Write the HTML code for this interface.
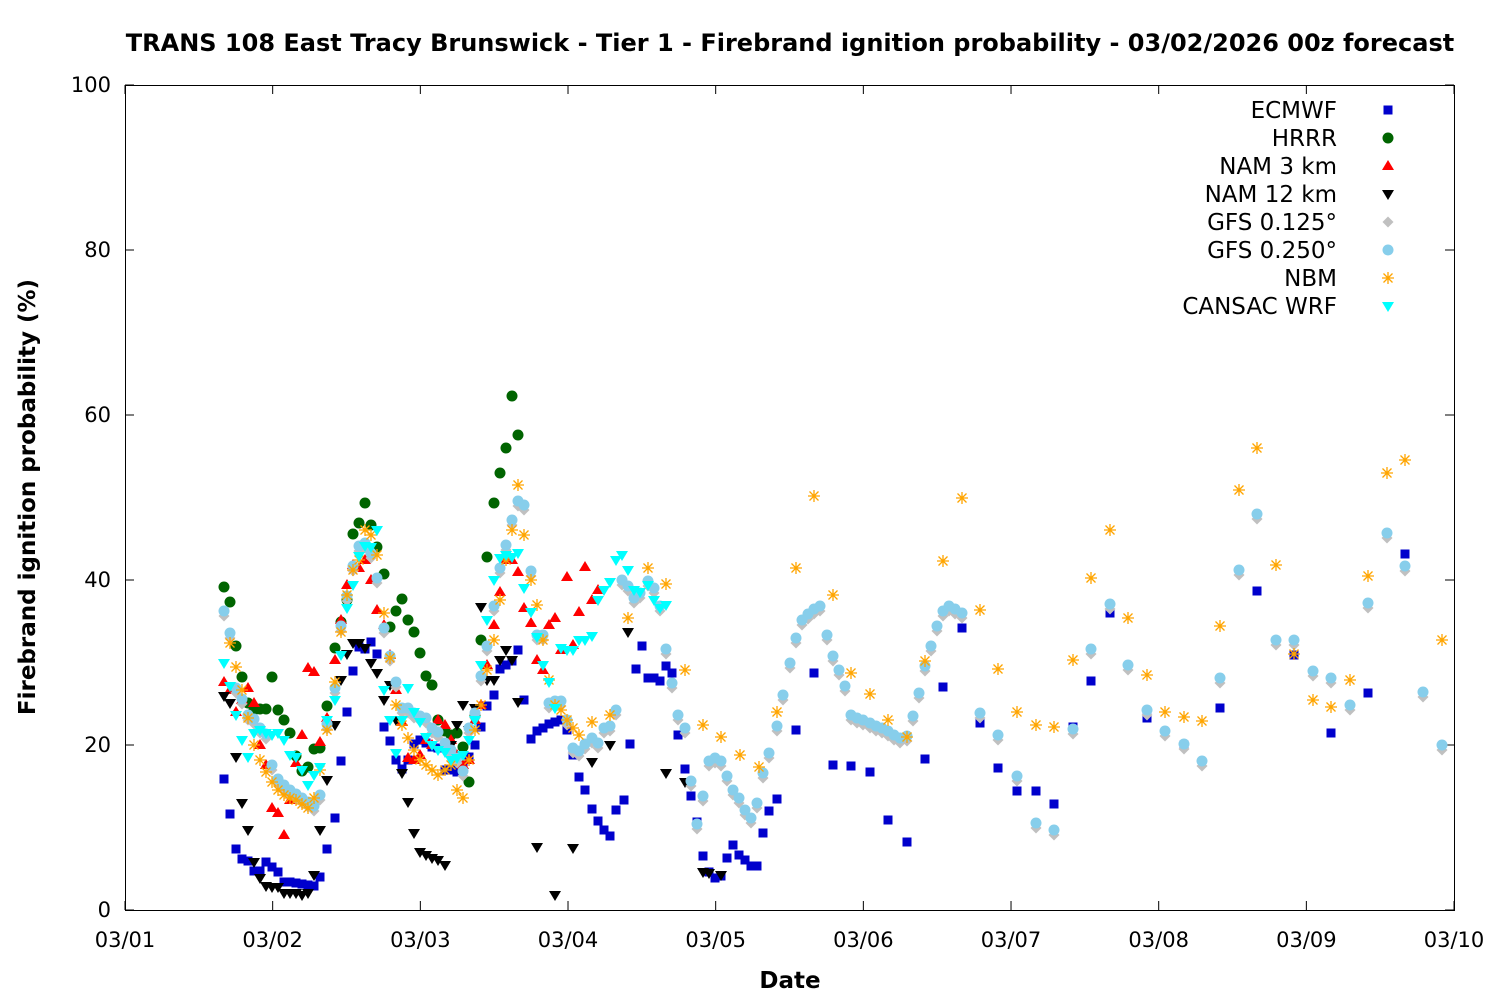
<!DOCTYPE html>
<html><head><meta charset="utf-8"><style>
html,body{margin:0;padding:0;background:#fff}
svg{display:block;font-family:"DejaVu Sans","Liberation Sans",sans-serif}
</style></head><body>
<svg id="s" width="1500" height="1000" xmlns="http://www.w3.org/2000/svg">
<rect width="1500" height="1000" fill="#fff"/>
<text x="790" y="51" font-size="24" font-weight="bold" text-anchor="middle">TRANS 108 East Tracy Brunswick - Tier 1 - Firebrand ignition probability - 03/02/2026 00z forecast</text>
<text x="790" y="988" font-size="23" font-weight="bold" text-anchor="middle">Date</text>
<text transform="translate(35,497) rotate(-90)" font-size="23" font-weight="bold" text-anchor="middle">Firebrand ignition probability (%)</text>
<g id="ax"></g>
<g id="pts"></g>
<g id="leg" font-size="23" text-anchor="end"></g>
</svg>
<script>
var NS="http://www.w3.org/2000/svg",ax=document.getElementById('ax'),P=document.getElementById('pts'),L=document.getElementById('leg');
function el(p,t,a,txt){var e=document.createElementNS(NS,t);for(var k in a)e.setAttribute(k,a[k]);if(txt)e.textContent=txt;p.appendChild(e);return e;}
el(ax,'rect',{x:125.5,y:85.5,width:1329,height:825,fill:'none',stroke:'#000','stroke-width':1});
for(var i=0;i<=5;i++){var y=910-i*165;el(ax,'path',{d:'M125 '+y+'h9M1454 '+y+'h-9',stroke:'#000'});el(ax,'text',{x:111,y:y+7,'font-size':21,'text-anchor':'end'},String(i*20));}
for(var d=0;d<=9;d++){var x=125+d*147.67;el(ax,'path',{d:'M'+x+' 910v-9M'+x+' 85v9',stroke:'#000'});el(ax,'text',{x:x,y:947,'font-size':21,'text-anchor':'middle'},'03/'+(d<9?'0':'')+(d+1));}
function sym(g,type,c,x,y){
 if(type=='sq')el(g,'rect',{x:x-4.5,y:y-4.5,width:9,height:9,fill:c});
 else if(type=='ci')el(g,'circle',{cx:x,cy:y,r:5.5,fill:c});
 else if(type=='tu')el(g,'path',{d:'M'+x+' '+(y-6)+'l6 10h-12z',fill:c});
 else if(type=='td')el(g,'path',{d:'M'+x+' '+(y+6)+'l6 -10h-12z',fill:c});
 else if(type=='di')el(g,'path',{d:'M'+x+' '+(y-5.5)+'l5.5 5.5l-5.5 5.5l-5.5 -5.5z',fill:c});
 else if(type=='as'){el(g,'path',{d:'M'+(x-6)+' '+y+'h12M'+x+' '+(y-6)+'v12M'+(x-4.5)+' '+(y-4.5)+'l9 9M'+(x-4.5)+' '+(y+4.5)+'l9 -9',stroke:c,'stroke-width':1.3,fill:'none'});}
}
function pa(s){return s.match(/-?\d+/g).map(Number);}
var EC=pa("224,779 230,814 236,849 242,859 248,861 254,871 260,871 266,862 272,867 278,872 284,882 290,882 296,883 302,884 308,885 314,886 320,877 327,849 335,818 341,761 347,712 353,671 359,647 365,649 371,642 377,654 384,727 390,741 396,760 402,769 408,760 414,744 420,740 426,743 432,747 438,748 445,770 451,770 457,772 463,767 469,757 475,745 481,727 487,706 494,695 500,669 506,665 512,661 518,650 524,700 531,739 537,731 543,728 549,724 555,722 561,720 567,730 573,755 579,777 585,790 592,809 598,821 604,830 610,836 616,810 624,800 630,744 636,669 642,646 648,678 654,678 660,681 666,666 672,673 678,735 685,769 691,796 697,822 703,856 709,872 715,878 721,876 727,858 733,845 739,855 745,860 751,866 757,866 763,833 769,811 777,799 796,730 814,673 833,765 851,766 870,772 888,820 907,842 925,759 943,687 962,628 980,723 998,768 1017,791 1036,791 1054,804 1073,727 1091,681 1110,613 1147,718 1184,745 1220,708 1257,591 1294,655 1331,733 1368,693 1405,554");
var GF=pa("224,613 230,635 236,690 242,701 248,717 254,721 260,730 266,736 272,767 278,781 284,787 290,792 296,796 302,800 308,804 314,808 320,797 327,726 335,690 341,628 347,598 353,568 359,548 365,545 371,555 377,580 384,630 390,658 396,684 402,710 408,710 414,715 420,718 426,720 432,730 438,734 445,745 451,752 457,760 463,773 469,730 475,715 481,678 487,648 494,608 500,570 506,547 512,522 518,503 524,507 531,573 537,637 543,637 549,705 555,703 561,703 567,722 573,750 579,753 585,746 592,740 598,745 604,730 610,728 616,712 622,582 628,588 634,600 640,595 648,583 654,590 660,608 666,651 672,685 678,717 685,730 691,783 697,826 703,798 709,763 715,760 721,763 727,778 733,792 739,800 745,812 751,820 757,805 763,775 769,755 777,728 783,697 790,665 796,640 802,622 808,616 814,611 820,608 827,637 833,658 839,672 845,688 851,717 857,720 863,722 870,725 876,728 882,730 888,733 894,737 900,740 907,738 913,718 919,695 925,668 931,648 937,628 943,613 949,608 955,611 962,615 980,715 998,737 1017,778 1036,825 1054,832 1073,731 1091,651 1110,606 1128,667 1147,712 1165,733 1184,746 1202,763 1220,680 1239,572 1257,516 1276,642 1294,642 1313,673 1331,680 1350,707 1368,605 1387,535 1405,568 1423,694 1442,747");
var NB=pa("230,643 236,667 242,690 248,718 254,745 260,760 266,772 272,782 278,790 284,795 290,798 296,800 302,804 308,808 314,798 320,770 327,730 335,682 341,632 347,595 353,570 359,560 365,530 371,535 377,555 384,613 390,658 396,705 402,725 408,738 414,750 420,760 426,765 432,770 438,775 445,770 451,765 457,790 463,798 469,760 475,730 481,705 487,670 494,640 500,600 506,560 512,530 518,485 524,535 531,580 537,605 543,640 549,680 555,705 561,710 567,720 573,728 579,735 592,722 610,715 628,618 648,568 666,584 685,670 703,725 721,737 740,755 759,767 777,712 796,568 814,496 833,595 851,673 870,694 888,720 907,737 925,661 943,561 962,498 980,610 998,669 1017,712 1036,725 1054,727 1073,660 1091,578 1110,530 1128,618 1147,675 1165,712 1184,717 1202,721 1220,626 1239,490 1257,448 1276,565 1294,654 1313,700 1331,707 1350,680 1368,576 1387,473 1405,460 1442,640");
var HR=pa("224,587 230,602 236,646 242,677 248,703 254,710 260,709 266,709 272,677 278,710 284,720 290,733 296,756 302,771 308,767 314,749 320,748 327,706 335,648 341,622 347,600 353,534 359,523 365,503 371,525 377,547 384,574 390,627 396,611 402,599 408,620 414,632 420,653 426,676 432,685 438,720 445,731 451,735 457,733 463,747 469,782 475,716 481,640 487,557 494,503 500,473 506,448 512,396 518,435");
var N3=pa("224,682 230,690 236,712 242,700 248,688 254,703 260,745 266,765 272,808 278,813 284,835 290,800 296,763 302,735 308,668 314,672 320,742 327,718 335,660 341,620 347,585 353,565 359,568 365,560 371,580 377,610 384,625 390,655 396,690 402,722 408,758 414,760 420,755 426,740 432,745 438,720 445,725 451,740 457,755 463,765 469,760 475,720 481,705 487,665 494,625 500,592 506,560 512,560 518,572 524,608 531,623 537,660 543,670 549,625 555,618 561,650 567,577 573,645 579,612 585,567 592,600 598,590");
var N12=pa("224,696 230,703 236,757 242,803 248,830 254,862 260,878 266,886 272,887 278,887 284,893 290,893 296,893 302,895 308,893 314,875 320,830 327,780 335,725 341,680 347,654 353,643 359,643 365,648 371,663 377,673 384,700 390,685 396,720 402,773 408,802 414,833 420,852 426,855 432,858 438,860 445,865 451,745 457,725 463,705 469,730 475,708 481,607 487,680 494,680 500,660 506,650 512,660 518,702 537,847 555,895 573,848 592,762 610,745 628,632 666,773 685,782 703,872 709,873 721,875");
var CW=pa("224,663 230,686 236,715 242,740 248,757 254,733 260,730 266,733 272,735 278,733 284,740 290,755 296,757 302,770 308,785 314,775 320,767 327,720 335,700 341,655 347,608 353,585 359,556 365,546 371,547 377,530 384,690 390,720 396,753 402,720 408,688 414,712 420,722 426,737 432,745 438,750 445,752 451,760 457,758 463,755 469,740 475,720 481,665 487,620 494,580 500,558 506,555 512,557 518,553 524,588 531,612 537,637 543,665 549,682 555,708 561,648 567,650 573,650 579,640 585,640 592,636 598,600 604,590 610,582 616,560 622,555 628,570 634,590 640,592 648,585 654,600 660,608 666,605");
var S=[[EC,'sq','#0000cc',0],[HR,'ci','#006400',0],[N3,'tu','#ff0000',0],[N12,'td','#000000',0],[GF,'di','#c0c0c0',3],[GF,'ci','#87ceeb',-2],[NB,'as','#ffa500',0],[CW,'td','#00ffff',0]];
var names=['ECMWF','HRRR','NAM 3 km','NAM 12 km','GFS 0.125°','GFS 0.250°','NBM','CANSAC WRF'];
S.forEach(function(s,k){var a=s[0];for(var i=0;i<a.length;i+=2)sym(P,s[1],s[2],a[i],a[i+1]+s[3]);
 var y=110+k*28;el(L,'text',{x:1337,y:y+8},names[k]);sym(L,s[1],s[2],1388,y);});
</script>
</body></html>
